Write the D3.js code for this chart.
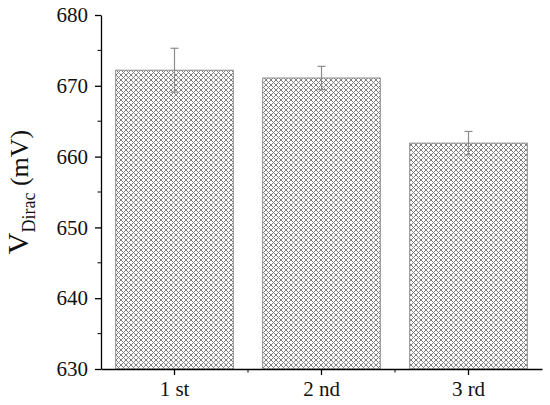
<!DOCTYPE html>
<html>
<head>
<meta charset="utf-8">
<script src="https://cdn.jsdelivr.net/npm/d3@7"></script>
<style>
    body { margin: 0; background: #fff; }
    svg text { font-family: "Liberation Serif", "Times New Roman", serif; }
</style>
</head>
<body>
<svg width="550" height="405"></svg>
<script>
    "use strict";

    var categories = ["1 st", "2 nd", "3 rd"];
    var values = [672.2, 671.1, 661.9];
    var errors = [3.1, 1.65, 1.65];
    var yTicks = [630, 640, 650, 660, 670, 680];

    var margin = {top: 15, left: 101, bottom: 36, right: 8};
    var svg = d3.select("svg");
    var width = 550 - margin.left - margin.right;
    var height = 405 - margin.top - margin.bottom;

    // crosshatch fill
    var p = 5; // px, hatch period
    var pattern = svg.append("defs").append("pattern")
        .attr("id", "hatch")
        .attr("patternUnits", "userSpaceOnUse")
        .attr("width", p)
        .attr("height", p);
    pattern.append("rect")
        .attr("width", p).attr("height", p).attr("fill", "#fff");
    pattern.append("path")
        .attr("d", "M0,0 L" + p + "," + p + " M-1,4 L1,6 M4,-1 L6,1" +
                " M0," + p + " L" + p + ",0 M-1,1 L1,-1 M4,6 L6,4")
        .attr("stroke", "#808080")
        .attr("stroke-width", 1);

    var g = svg.append("g")
        .attr("transform", "translate(" + margin.left + "," + margin.top + ")");

    var x = d3.scaleBand()
        .domain(categories)
        .range([0, width])
        .paddingInner(0.2)
        .paddingOuter(0.1);

    var y = d3.scaleLinear()
        .domain([630, 680])
        .range([height, 0]);

    // bars
    g.selectAll("rect.bar")
        .data(values)
        .enter().append("rect")
        .attr("class", "bar")
        .attr("x", function (d, i) { return x(categories[i]); })
        .attr("width", x.bandwidth())
        .attr("y", function (d) { return y(d); })
        .attr("height", function (d) { return height - y(d); })
        .attr("fill", "url(#hatch)")
        .attr("stroke", "#8a8a8a")
        .attr("stroke-width", 1);

    // error bars
    var errG = g.selectAll("g.err")
        .data(values)
        .enter().append("g")
        .attr("class", "err")
        .attr("stroke", "#8c8c8c")
        .attr("stroke-width", 1.2);
    errG.append("line")
        .attr("x1", function (d, i) { return x(categories[i]) + x.bandwidth() / 2; })
        .attr("x2", function (d, i) { return x(categories[i]) + x.bandwidth() / 2; })
        .attr("y1", function (d, i) { return y(d + errors[i]); })
        .attr("y2", function (d, i) { return y(d - errors[i]); });
    [1, -1].forEach(function (sign) {
        errG.append("line")
            .attr("x1", function (d, i) { return x(categories[i]) + x.bandwidth() / 2 - 4; })
            .attr("x2", function (d, i) { return x(categories[i]) + x.bandwidth() / 2 + 4; })
            .attr("y1", function (d, i) { return y(d + sign * errors[i]); })
            .attr("y2", function (d, i) { return y(d + sign * errors[i]); });
    });

    // y axis: major + minor ticks
    var yAxis = d3.axisLeft(y).tickValues(yTicks).tickSize(6).tickSizeOuter(0);
    var yG = g.append("g").call(yAxis);
    yG.append("g").selectAll("line")
        .data([635, 645, 655, 665, 675])
        .enter().append("line")
        .attr("x1", -3.5).attr("x2", 0)
        .attr("y1", function (d) { return y(d); })
        .attr("y2", function (d) { return y(d); })
        .attr("stroke", "#000");

    // x axis
    var xAxis = d3.axisBottom(x).tickSize(6).tickSizeOuter(0);
    var xG = g.append("g")
        .attr("transform", "translate(0," + height + ")")
        .call(xAxis);
    xG.append("g").selectAll("line")
        .data([1, 2])
        .enter().append("line")
        .attr("x1", function (d) { return x(categories[d]) - x.step() * 0.1; })
        .attr("x2", function (d) { return x(categories[d]) - x.step() * 0.1; })
        .attr("y1", 0).attr("y2", 3.5)
        .attr("stroke", "#000");

    [yG, xG].forEach(function (ax) {
        ax.select(".domain").attr("stroke-width", 1.3);
        ax.selectAll(".tick line").attr("stroke-width", 1.3);
        ax.selectAll("text")
            .attr("font-size", 21)
            .attr("font-family", "Liberation Serif")
            .attr("fill", "#111");
    });
    yG.selectAll(".tick text").attr("x", -13);
    xG.selectAll(".tick text").attr("y", 12);

    // y label
    var label = svg.append("text")
        .attr("transform", "translate(28," + (margin.top + height / 2) + ") rotate(-90)")
        .attr("text-anchor", "middle")
        .attr("fill", "#111")
        .attr("font-size", 30);
    label.append("tspan").text("V");
    label.append("tspan").attr("font-size", 18).attr("dy", 7).text("Dirac");
    label.append("tspan").attr("font-size", 26).attr("dy", -7).text(" (mV)");
</script>
</body>
</html>
